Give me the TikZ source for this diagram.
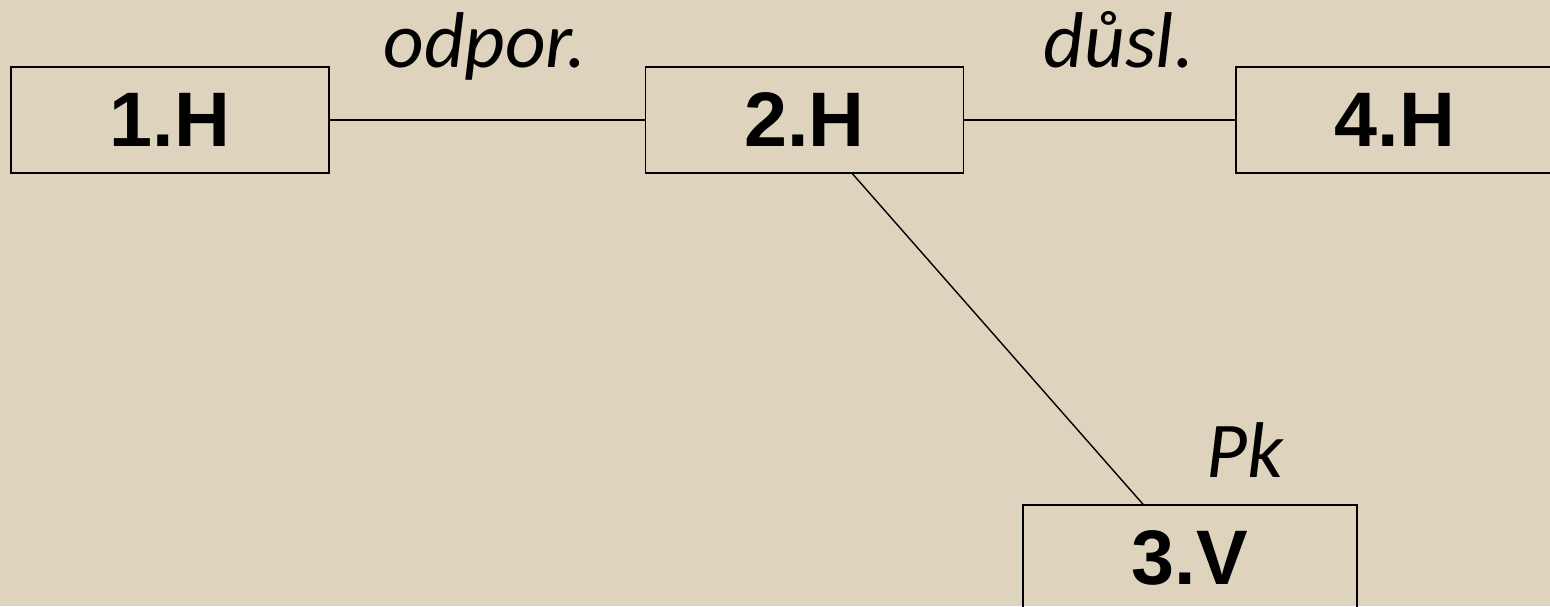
\documentclass[tikz,border=0pt]{standalone}
\usepackage{fontspec}
\setmainfont{Liberation Sans}
\newfontfamily\labelfont{Carlito}
\usetikzlibrary{positioning,calc}

\definecolor{canvas}{RGB}{222,212,190}

\begin{document}
\begin{tikzpicture}[x=1cm,y=1cm]

\def\boxwidth{6.36cm};
\def\boxheight{2.12cm};
\tikzset{stage box/.style={
    rectangle,
    draw,
    line width=0.8pt,
    font=\fontsize{44}{44}\selectfont\bfseries,
    minimum width=\boxwidth,
    minimum height=\boxheight,
    inner sep=0pt
}};
\tikzset{edge label/.style={
    anchor=base,
    inner sep=0pt,
    font=\fontsize{45}{45}\selectfont\labelfont\itshape
}};

\fill[canvas] (0,0) rectangle (31,12.12);
\useasboundingbox (0,0) rectangle (31,12.12);

\node[stage box] (h1) at (3.4,9.72) {1.H};
\node[stage box] (h2) at (16.09,9.72) {2.H};
\node[stage box] (h4) at (27.9,9.72) {4.H};
\node[stage box, minimum width=6.68cm] (v3) at (23.8,0.96) {3.V};

\draw[line width=0.8pt] (h1.east) -- (h2.west);
\draw[line width=0.8pt] (h2.east) -- (h4.west);
\draw[line width=0.8pt] ($(h2.south west)!0.65!(h2.south east)$)
    -- ($(v3.north west)!0.36!(v3.north east)$);

\node[edge label] (odpor) at (9.7,10.76) {odpor.};
\node[edge label] (dusl) at (22.38,10.76) {důsl.};
\node[edge label] (pk) at (24.9,2.56) {Pk};
\end{tikzpicture}
\end{document}
